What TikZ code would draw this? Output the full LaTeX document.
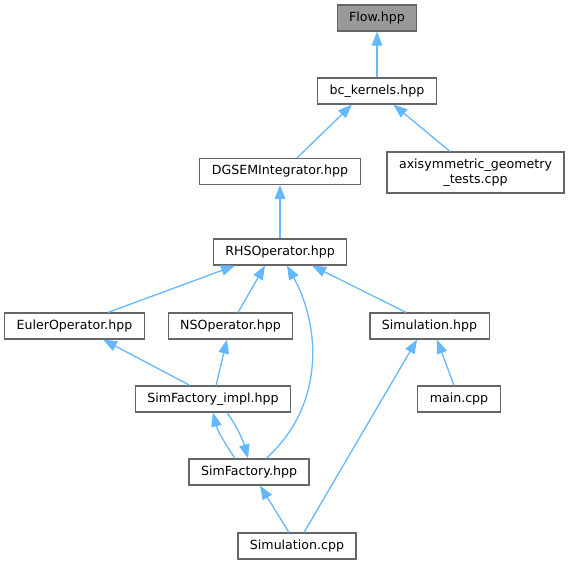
\documentclass[tikz,border=0pt]{standalone}
\usepackage{fontspec}
\setmainfont{DejaVu Sans}
\usetikzlibrary{arrows.meta}
\definecolor{bordo}{HTML}{666666}
\definecolor{freccia}{HTML}{63B8FF}
\definecolor{grigio}{HTML}{999999}

\begin{document}
\begin{tikzpicture}[x=1pt,y=-1pt,
  file/.style={draw=bordo, fill=white, line width=1.1pt, minimum height=26pt,
    inner xsep=12pt, inner ysep=2pt, font=\fontsize{12.6}{15}\selectfont},
  dipende/.style={draw=freccia, line width=1.3pt, {Triangle[length=14pt,width=10.5pt]}-}]
\useasboundingbox (0,0) rectangle (573,564);

% File
\node[file, fill=grigio] (flow) at (377,18) {Flow.hpp};
\node[file] (bck) at (377,91) {bc\_kernels.hpp};
\node[file, align=center, minimum height=41pt] (axis) at (475.5,172.5) {axisymmetric\_geometry\\\_tests.cpp};
\node[file] (dgsem) at (280,171.5) {DGSEMIntegrator.hpp};
\node[file] (rhs) at (280,252) {RHSOperator.hpp};
\node[file] (euler) at (74.5,326) {EulerOperator.hpp};
\node[file] (ns) at (230.5,326) {NSOperator.hpp};
\node[file] (simh) at (429.5,326) {Simulation.hpp};
\node[file] (impl) at (213,399) {SimFactory\_impl.hpp};
\node[file] (mainc) at (459,399) {main.cpp};
\node[file] (sf) at (249,472) {SimFactory.hpp};
\node[file] (simc) at (297,546) {Simulation.cpp};

% Dipendenze
\draw[dipende] (flow) -- (bck);
\draw[dipende] ([xshift=-25pt]bck.south) -- ([xshift=17pt]dgsem.north);
\draw[dipende] (bck) -- (axis);
\draw[dipende] (dgsem) -- (rhs);
\draw[dipende] ([xshift=-45pt]rhs.south) -- ([xshift=33.5pt]euler.north);
\draw[dipende] ([xshift=-15pt]rhs.south) -- ([xshift=7.5pt]ns.north);
\draw[dipende] ([xshift=32pt]rhs.south) -- ([xshift=-23.5pt]simh.north);
\draw[dipende] ([xshift=7pt]rhs.south) .. controls (320,325) and (326,405) .. ([xshift=17pt]sf.north);
\draw[dipende] ([xshift=28.5pt]euler.south) -- ([xshift=-23pt]impl.north);
\draw[dipende] ([xshift=-3.5pt]ns.south) -- ([xshift=3pt]impl.north);

% SimFactory avanti e indietro
\draw[dipende] (impl.south) .. controls (218,432) and (226,445) .. ([xshift=-14pt]sf.north);
\draw[dipende] ([xshift=-1pt]sf.north) .. controls (243,440) and (236,425) .. ([xshift=14pt]impl.south);

\draw[dipende] ([xshift=11pt]sf.south) -- ([xshift=-8pt]simc.north);
\draw[dipende] ([xshift=-12.5pt]simh.south) -- ([xshift=7pt]simc.north);
\draw[dipende] ([xshift=7.5pt]simh.south) -- ([xshift=-5pt]mainc.north);
\end{tikzpicture}
\end{document}
